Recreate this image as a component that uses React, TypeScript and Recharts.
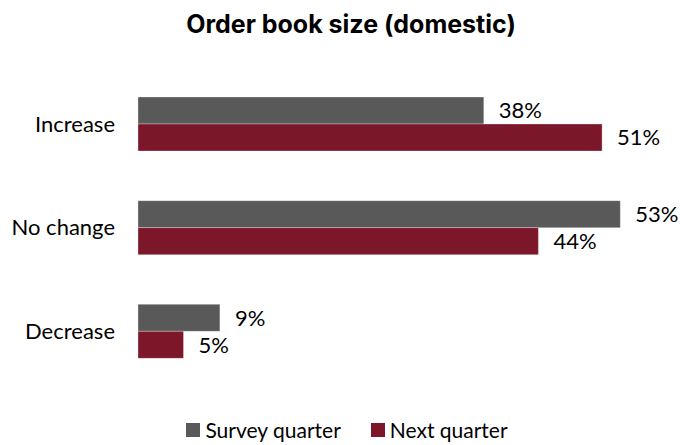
import { BarChart, Bar, XAxis, YAxis, LabelList } from 'recharts';

const categories = ['Increase', 'No change', 'Decrease'];
const surveyQuarter = [38, 53, 9];
const nextQuarter = [51, 44, 5];
const seriesNames = ['Survey quarter', 'Next quarter'];
const colors = ['#595959', '#7B1728'];

const data = categories.map((c, i) => ({
  category: c,
  survey: surveyQuarter[i],
  next: nextQuarter[i]
}));

const labelFont = 'Lato, "Open Sans", sans-serif';

function LegendContent() {
  return (
    <div style={{ display: 'flex', justifyContent: 'center', fontFamily: labelFont, fontSize: 21, color: '#000', lineHeight: '22px' }}>
      {seriesNames.map((n, i) => (
        <div key={n} style={{ display: 'flex', alignItems: 'center', marginRight: i === 0 ? 30 : 0 }}>
          <span style={{ display: 'inline-block', width: 14, height: 14, background: colors[i], marginRight: 5 }} />
          <span>{n}</span>
        </div>
      ))}
    </div>
  );
}

export default function App() {
  return (
    <div style={{ position: 'absolute', left: 0, top: 0, width: 694, height: 445, background: '#fff', overflow: 'hidden' }}>
      <div style={{
        position: 'absolute', top: 9, left: 4, width: 694, textAlign: 'center',
        fontFamily: 'Inter, sans-serif', fontWeight: 700, fontSize: 25, color: '#000'
      }}>
        Order book size (domestic)
      </div>

      <BarChart
        width={694}
        height={445}
        data={data}
        layout="vertical"
        margin={{ top: 72, right: 10, bottom: 62, left: 0 }}
        barGap={0}
        barSize={27}
      >
        <XAxis type="number" domain={[0, 60]} hide />
        <YAxis
          type="category"
          dataKey="category"
          width={138}
          tickLine={false}
          axisLine={false}
          tickMargin={17}
          tick={{ fill: '#000', fontSize: 22, fontFamily: labelFont }}
        />
        <Bar dataKey="survey" name={seriesNames[0]} fill={colors[0]} stroke="#ffffff" strokeOpacity={0.3} isAnimationActive={false}>
          <LabelList
            dataKey="survey"
            position="right"
            offset={15}
            formatter={(v: any) => `${v}%`}
            style={{ fill: '#000', fontSize: 22, fontFamily: labelFont, stroke: 'none' }}
          />
        </Bar>
        <Bar dataKey="next" name={seriesNames[1]} fill={colors[1]} stroke="#ffffff" strokeOpacity={0.3} isAnimationActive={false}>
          <LabelList
            dataKey="next"
            position="right"
            offset={15}
            formatter={(v: any) => `${v}%`}
            style={{ fill: '#000', fontSize: 22, fontFamily: labelFont, stroke: 'none' }}
          />
        </Bar>
      </BarChart>

      <div style={{ position: 'absolute', left: 0, top: 419, width: 694 }}>
        <LegendContent />
      </div>
    </div>
  );
}
